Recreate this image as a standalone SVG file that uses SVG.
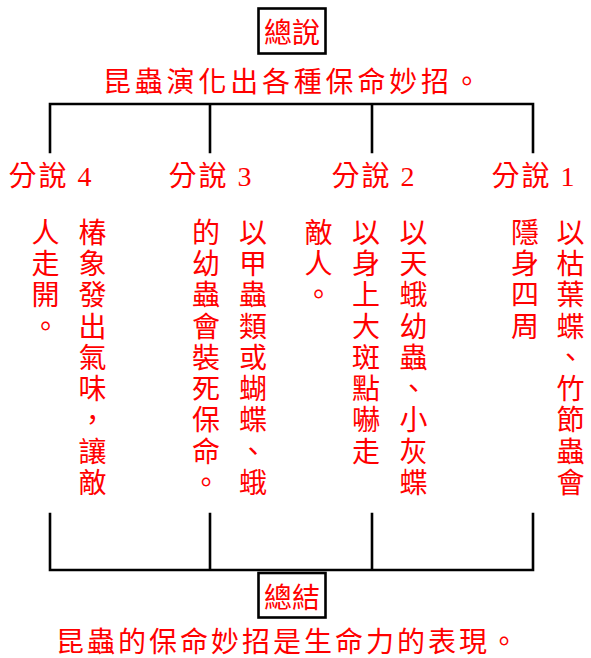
<svg xmlns="http://www.w3.org/2000/svg" width="591" height="658" viewBox="0 0 591 658">
<style>
.t{font-family:"Noto Sans CJK TC","Liberation Serif",serif;font-size:28px;fill:#ff0000;}
.h{dominant-baseline:central;}
.lbl{font-family:"Liberation Serif","Noto Sans CJK TC",serif;letter-spacing:2px;}
.v{writing-mode:vertical-rl;letter-spacing:3.3px;}
.box{fill:#ffffff;stroke:#000000;stroke-width:2.6;}
.ln{fill:none;stroke:#000000;stroke-width:2.6;stroke-linecap:square;}
</style>
<rect width="591" height="658" fill="#ffffff"/>
<g id="connectors">
<path class="ln" d="M50,152 V104 H533 V152 M210,104 V152 M372,104 V152"/>
<path class="ln" d="M50,514 V570 H533 V514 M210,514 V570 M372,514 V570"/>
</g>
<g id="overview">
<rect class="box" x="258.5" y="8.5" width="67" height="45"/>
<text class="t" x="292" y="31" text-anchor="middle" dominant-baseline="central">總說</text>
</g>
<g id="thesis">
<text class="t h" x="103" y="80" letter-spacing="3.8">昆蟲演化出各種保命妙招。</text>
</g>
<g id="part4">
<text class="t lbl" x="51" y="176" text-anchor="middle" dominant-baseline="central">分說 4</text>
<text class="t v" x="92.5" y="218">椿象發出氣味，讓敵</text>
<text class="t v" x="45.5" y="218">人走開。</text>
</g>
<g id="part3">
<text class="t lbl" x="211" y="176" text-anchor="middle" dominant-baseline="central">分說 3</text>
<text class="t v" x="253" y="218">以甲蟲類或蝴蝶、蛾</text>
<text class="t v" x="206" y="218">的幼蟲會裝死保命。</text>
</g>
<g id="part2">
<text class="t lbl" x="374" y="176" text-anchor="middle" dominant-baseline="central">分說 2</text>
<text class="t v" x="413.5" y="218">以天蛾幼蟲、小灰蝶</text>
<text class="t v" x="366" y="218">以身上大斑點嚇走</text>
<text class="t v" x="318.5" y="218">敵人。</text>
</g>
<g id="part1">
<text class="t lbl" x="534" y="176" text-anchor="middle" dominant-baseline="central">分說 1</text>
<text class="t v" x="570.5" y="218">以枯葉蝶、竹節蟲會</text>
<text class="t v" x="525" y="218">隱身四周</text>
</g>
<g id="summary">
<rect class="box" x="258.5" y="573" width="67" height="44.5"/>
<text class="t" x="292" y="595.5" text-anchor="middle" dominant-baseline="central">總結</text>
</g>
<g id="conclusion">
<text class="t h" x="56" y="639.5" letter-spacing="3">昆蟲的保命妙招是生命力的表現。</text>
</g>
</svg>
